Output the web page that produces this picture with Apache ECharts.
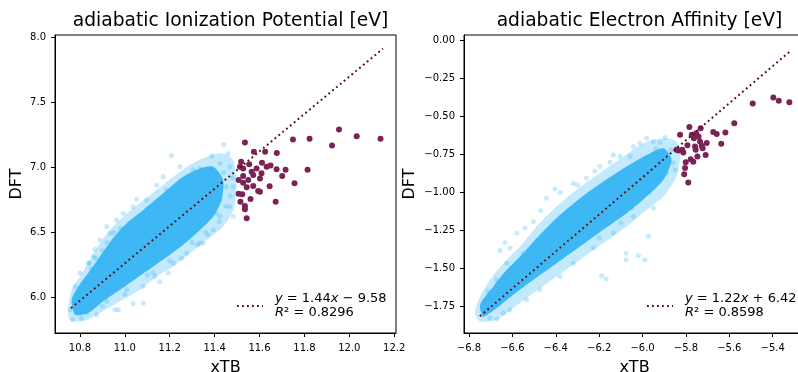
<!DOCTYPE html>
<html>
<head>
<meta charset="utf-8">
<script src="https://cdn.jsdelivr.net/npm/echarts@6/dist/echarts.min.js"></script>
<style>
  html, body { margin: 0; padding: 0; background: #fff; }
  #chart { width: 798px; height: 372px; }
</style>
</head>
<body>
<div id="chart"></div>
<script>
// ---- Ionization potential panel ----
const ipXTicks = [10.8, 11.0, 11.2, 11.4, 11.6, 11.8, 12.0, 12.2];
const ipYTicks = [6.0, 6.5, 7.0, 7.5, 8.0];
// dense, fully overlapped part of the xTB/DFT cloud (outline)
const ipCore = [
  [10.763, 5.979], [10.793, 6.082], [10.837, 6.185], [10.889, 6.313], [10.941, 6.441],
  [11.008, 6.569], [11.082, 6.672], [11.171, 6.800], [11.260, 6.928], [11.335, 6.992],
  [11.394, 7.005], [11.438, 6.903], [11.431, 6.749], [11.394, 6.621], [11.335, 6.518],
  [11.268, 6.415], [11.201, 6.326], [11.127, 6.236], [11.052, 6.146], [10.978, 6.056],
  [10.904, 5.967], [10.837, 5.877], [10.778, 5.864]
];
// thinner, partly overlapped rim of the same cloud (outline)
const ipFringe = [
  [10.748, 5.903], [10.763, 6.056], [10.800, 6.159], [10.845, 6.287], [10.889, 6.415],
  [10.934, 6.518], [10.993, 6.621], [11.067, 6.723], [11.142, 6.826], [11.216, 6.928],
  [11.290, 7.018], [11.364, 7.082], [11.438, 7.108], [11.483, 7.056], [11.498, 6.851],
  [11.483, 6.672], [11.438, 6.544], [11.364, 6.441], [11.290, 6.338], [11.216, 6.236],
  [11.142, 6.159], [11.067, 6.056], [10.978, 5.967], [10.889, 5.877], [10.815, 5.813],
  [10.755, 5.826]
];
// sparse molecules around the dense cloud
const ipHalo = [
  [10.755, 5.903], [10.767, 5.826], [10.807, 5.838], [10.874, 5.864], [10.867, 6.369],
  [10.859, 6.313], [10.842, 6.262], [10.889, 6.262], [10.934, 6.492], [10.956, 6.403],
  [11.052, 6.756], [11.208, 7.092], [11.082, 5.954], [11.037, 5.949], [10.956, 5.903],
  [10.971, 5.903], [11.134, 6.159], [11.156, 6.121], [11.193, 6.185], [11.253, 6.300],
  [11.323, 6.403], [11.349, 6.415], [11.372, 6.479], [11.409, 6.646], [11.483, 6.621],
  [11.468, 6.697], [11.424, 6.749], [11.453, 6.851], [11.468, 7.005], [11.424, 7.031],
  [11.388, 7.087], [11.441, 7.177], [11.461, 7.108], [11.335, 6.992], [11.305, 6.979],
  [11.275, 6.903], [11.171, 6.928], [11.142, 6.864], [11.097, 6.749], [11.037, 6.697],
  [10.993, 6.646], [10.963, 6.595], [10.919, 6.544], [10.889, 6.441], [10.837, 6.262],
  [10.800, 6.185], [10.778, 6.082], [10.785, 5.979], [10.830, 5.877], [10.919, 5.967],
  [11.008, 6.056], [11.082, 6.082], [11.127, 6.185], [11.216, 6.262], [11.275, 6.338],
  [11.335, 6.415], [11.394, 6.518], [11.424, 6.621], [11.483, 6.851], [11.394, 6.903],
  [11.245, 7.005], [11.186, 6.826], [10.850, 6.220], [10.870, 6.300], [10.900, 6.360],
  [10.920, 6.420], [10.820, 6.120], [10.950, 6.500], [10.980, 6.530], [11.200, 6.280],
  [11.300, 6.420], [11.360, 6.500], [11.100, 6.170], [11.000, 6.020], [10.900, 5.930],
  [11.420, 6.580], [11.450, 6.700], [11.470, 6.780], [11.440, 6.960], [11.480, 6.920]
];
// molecules flagged as outliers
const ipOutliers = [
  [11.535, 7.192], [11.954, 7.292], [12.033, 7.241], [12.139, 7.220], [11.749, 7.215],
  [11.823, 7.220], [11.923, 7.169], [11.575, 7.120], [11.625, 7.120], [11.677, 7.112],
  [11.518, 7.043], [11.554, 7.025], [11.611, 7.035], [11.649, 7.015], [11.632, 7.005],
  [11.676, 6.985], [11.716, 6.982], [11.814, 6.982], [11.513, 7.005], [11.527, 6.992],
  [11.565, 6.966], [11.587, 6.992], [11.609, 6.954], [11.572, 6.941], [11.527, 6.933],
  [11.701, 6.933], [11.507, 6.902], [11.550, 6.902], [11.602, 6.915], [11.527, 6.882],
  [11.572, 6.856], [11.543, 6.846], [11.645, 6.854], [11.756, 6.877], [11.594, 6.818],
  [11.602, 6.812], [11.507, 6.797], [11.523, 6.792], [11.560, 6.756], [11.672, 6.735],
  [11.515, 6.735], [11.535, 6.702], [11.535, 6.677], [11.543, 6.608]
];
const ipSlope = 1.44;
const ipIntercept = -9.58;
const ipR2 = 0.8296;
const ipFitRange = [10.76, 12.15];

// ---- Electron affinity panel ----
const eaXTicks = [-6.8, -6.6, -6.4, -6.2, -6.0, -5.8, -5.6, -5.4];
const eaYTicks = [-1.75, -1.5, -1.25, -1.0, -0.75, -0.5, -0.25, 0.0];
const eaCore = [
  [-6.749, -1.739], [-6.688, -1.618], [-6.626, -1.509], [-6.550, -1.399], [-6.473, -1.278],
  [-6.380, -1.147], [-6.288, -1.037], [-6.181, -0.927], [-6.073, -0.828], [-5.981, -0.752],
  [-5.904, -0.708], [-5.866, -0.785], [-5.904, -0.916], [-5.981, -1.026], [-6.073, -1.136],
  [-6.181, -1.245], [-6.288, -1.355], [-6.396, -1.465], [-6.503, -1.574], [-6.596, -1.673],
  [-6.672, -1.761], [-6.734, -1.816]
];
const eaFringe = [
  [-6.772, -1.794], [-6.749, -1.684], [-6.703, -1.574], [-6.642, -1.465], [-6.565, -1.355],
  [-6.488, -1.223], [-6.396, -1.092], [-6.304, -0.982], [-6.196, -0.872], [-6.088, -0.763],
  [-5.996, -0.675], [-5.904, -0.642], [-5.843, -0.664], [-5.827, -0.763], [-5.843, -0.894],
  [-5.904, -1.026], [-5.981, -1.114], [-6.073, -1.223], [-6.181, -1.333], [-6.288, -1.443],
  [-6.396, -1.553], [-6.503, -1.662], [-6.596, -1.761], [-6.672, -1.838], [-6.749, -1.849]
];
const eaHalo = [
  [-6.634, -1.329], [-6.657, -1.381], [-6.611, -1.366], [-6.076, -1.399], [-6.076, -1.443],
  [-6.019, -1.414], [-5.989, -1.443], [-6.188, -1.548], [-6.168, -1.570], [-5.973, -1.289],
  [-5.981, -0.642], [-5.896, -0.637], [-5.919, -0.670], [-5.858, -0.806], [-5.850, -0.850],
  [-6.404, -0.977], [-6.442, -1.037], [-6.503, -1.190], [-6.542, -1.234], [-6.711, -1.651],
  [-6.734, -1.805], [-6.703, -1.827], [-6.672, -1.833], [-6.642, -1.794], [-6.135, -0.752],
  [-6.104, -0.763], [-6.042, -0.697], [-6.012, -0.675], [-5.950, -0.664], [-5.935, -0.741],
  [-5.881, -0.774], [-5.889, -0.872], [-5.950, -1.103], [-6.042, -1.158], [-6.135, -1.267],
  [-6.227, -1.366], [-6.319, -1.465], [-6.380, -1.553], [-6.473, -1.640], [-6.534, -1.706],
  [-6.611, -1.772], [-6.258, -0.905], [-6.319, -0.938], [-6.196, -0.828], [-6.058, -0.763],
  [-6.580, -1.267], [-6.626, -1.465], [-6.672, -1.574], [-6.470, -1.120], [-6.380, -1.000],
  [-6.300, -0.950], [-6.220, -0.860], [-6.150, -0.800], [-5.920, -0.900], [-5.970, -1.000],
  [-6.050, -1.100], [-6.100, -1.200], [-6.200, -1.300], [-6.550, -1.400], [-6.600, -1.500],
  [-6.700, -1.700], [-5.870, -0.720], [-5.940, -0.710]
];
const eaOutliers = [
  [-5.397, -0.374], [-5.372, -0.396], [-5.323, -0.405], [-5.492, -0.414], [-5.577, -0.543],
  [-5.618, -0.605], [-5.674, -0.602], [-5.658, -0.615], [-5.637, -0.679], [-5.784, -0.569],
  [-5.732, -0.576], [-5.827, -0.620], [-5.773, -0.620], [-5.753, -0.609], [-5.742, -0.631],
  [-5.763, -0.642], [-5.735, -0.664], [-5.727, -0.692], [-5.704, -0.673], [-5.758, -0.697],
  [-5.755, -0.719], [-5.723, -0.708], [-5.835, -0.723], [-5.817, -0.719], [-5.812, -0.736],
  [-5.793, -0.688], [-5.709, -0.752], [-5.778, -0.780], [-5.766, -0.798], [-5.801, -0.800],
  [-5.747, -0.763], [-5.804, -0.839], [-5.808, -0.879], [-5.789, -0.934], [-5.843, -0.719]
];
const eaSlope = 1.22;
const eaIntercept = 6.42;
const eaR2 = 0.8598;
const eaFitRange = [-6.75, -5.32];

// ---- styling ----
const FONT = 'DejaVu Sans';
const CLOUD = '#37b5f4';
const OUTLIER = '#7b2356';
const FIT = '#5a0c0c';

const minus = s => String(s).replace('-', '\u2212');

function fitLine(slope, intercept, range) {
  return range.map(x => [x, slope * x + intercept]);
}

function makeAxes(gi, xr, yr, xt, yt, xDec, yDec, yGap) {
  const common = {
    type: 'value',
    gridIndex: gi,
    scale: true,
    splitLine: { show: false },
    axisLine: { show: true, onZero: false, lineStyle: { color: '#000', width: 1 } },
    axisTick: { show: true, length: 4, lineStyle: { color: '#000', width: 1 } },
    nameTextStyle: { fontFamily: FONT, fontSize: 16, color: '#000' },
    nameLocation: 'middle'
  };
  const x = Object.assign({}, common, {
    min: xr[0], max: xr[1], name: 'xTB', nameGap: 27,
    axisTick: Object.assign({}, common.axisTick, { customValues: xt }),
    axisLabel: {
      customValues: xt, margin: 10, fontFamily: FONT, fontSize: 10, color: '#000',
      formatter: v => minus(v.toFixed(xDec))
    }
  });
  const y = Object.assign({}, common, {
    min: yr[0], max: yr[1], name: 'DFT', nameGap: yGap,
    axisTick: Object.assign({}, common.axisTick, { customValues: yt }),
    axisLabel: {
      customValues: yt, margin: 9, fontFamily: FONT, fontSize: 10, color: '#000',
      formatter: v => minus(v.toFixed(yDec))
    }
  });
  return [x, y];
}

function areaSeries(idx, pts, opacity) {
  return {
    type: 'custom', xAxisIndex: idx, yAxisIndex: idx, clip: true, silent: true,
    data: pts,
    renderItem: (params, api) => {
      if (params.dataIndex !== 0) return null;
      return {
        type: 'polygon',
        shape: { points: pts.map(p => api.coord(p)), smooth: 0.25 },
        style: { fill: CLOUD, opacity: opacity }
      };
    }
  };
}

function haloSeries(idx, pts) {
  return {
    type: 'scatter', xAxisIndex: idx, yAxisIndex: idx, data: pts, symbolSize: 5,
    itemStyle: { color: CLOUD, opacity: 0.28 }, silent: true
  };
}

function outlierSeries(idx, pts) {
  return {
    type: 'scatter', xAxisIndex: idx, yAxisIndex: idx, data: pts, symbolSize: 6,
    itemStyle: { color: OUTLIER, opacity: 1 }, silent: true
  };
}

function fitSeries(idx, slope, intercept, range) {
  return {
    type: 'line', xAxisIndex: idx, yAxisIndex: idx, data: fitLine(slope, intercept, range),
    symbol: 'none', silent: true,
    lineStyle: { color: FIT, width: 2, type: [1.8, 3.2] }
  };
}

function legendGraphic(x0, slope, intercept, r2) {
  const sign = intercept < 0 ? ' \u2212 ' : ' + ';
  const rich = { i: { fontStyle: 'italic', fontFamily: FONT, fontSize: 13 } };
  return [
    { type: 'line', shape: { x1: x0, y1: 306, x2: x0 + 26, y2: 306 },
      style: { stroke: FIT, lineWidth: 2, lineDash: [1.8, 3.2] } },
    { type: 'text', x: x0 + 38, y: 298.5,
      style: { text: '{i|y} = ' + slope.toFixed(2) + '{i|x}' + sign + Math.abs(intercept).toFixed(2),
               rich, fontFamily: FONT, fontSize: 13, fill: '#000', verticalAlign: 'middle' } },
    { type: 'text', x: x0 + 38, y: 313,
      style: { text: '{i|R}\u00b2 = ' + r2.toFixed(4),
               rich, fontFamily: FONT, fontSize: 13, fill: '#000', verticalAlign: 'middle' } }
  ];
}

const ipAxes = makeAxes(0, [10.689, 12.208], [5.723, 8.021], ipXTicks, ipYTicks, 1, 1, 30);
const eaAxes = makeAxes(1, [-6.823, -5.251], [-1.925, 0.0375], eaXTicks, eaYTicks, 1, 2, 46);

const titleStyle = { fontFamily: FONT, fontSize: 18.7, fontWeight: 'normal', color: '#000' };
const gridBase = {
  top: 35, width: 341, height: 298, show: true, borderColor: '#000', borderWidth: 1,
  backgroundColor: 'transparent', containLabel: false, outerBoundsMode: 'none'
};

const chart = echarts.init(document.getElementById('chart'), null, { renderer: 'canvas' });
chart.setOption({
  animation: false,
  backgroundColor: '#fff',
  textStyle: { fontFamily: FONT },
  title: [
    { text: 'adiabatic Ionization Potential [eV]', left: 225.5, top: 7, textAlign: 'center', textStyle: titleStyle },
    { text: 'adiabatic Electron Affinity [eV]', left: 634.5, top: 7, textAlign: 'center', textStyle: titleStyle }
  ],
  grid: [
    Object.assign({ left: 55 }, gridBase),
    Object.assign({ left: 464 }, gridBase)
  ],
  xAxis: [ipAxes[0], eaAxes[0]],
  yAxis: [ipAxes[1], eaAxes[1]],
  series: [
    areaSeries(0, ipFringe, 0.3), areaSeries(0, ipCore, 0.95),
    haloSeries(0, ipHalo), outlierSeries(0, ipOutliers),
    fitSeries(0, ipSlope, ipIntercept, ipFitRange),
    areaSeries(1, eaFringe, 0.3), areaSeries(1, eaCore, 0.95),
    haloSeries(1, eaHalo), outlierSeries(1, eaOutliers),
    fitSeries(1, eaSlope, eaIntercept, eaFitRange)
  ],
  graphic: [
    ...legendGraphic(237, ipSlope, ipIntercept, ipR2),
    ...legendGraphic(647, eaSlope, eaIntercept, eaR2)
  ]
});
</script>
</body>
</html>
